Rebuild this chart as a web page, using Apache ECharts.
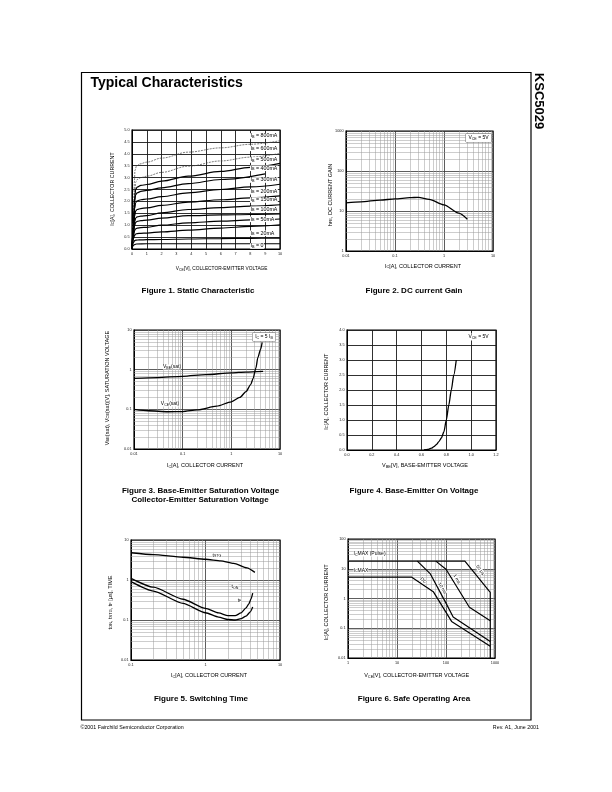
<!DOCTYPE html>
<html><head><meta charset="utf-8">
<script src="https://cdn.jsdelivr.net/npm/echarts/dist/echarts.min.js"></script>
<style>html,body{margin:0;padding:0;background:#fff}#c{width:612px;height:792px}</style>
</head><body><div id="c"></div>
<script>
const FONT = '"Liberation Sans", Arial, Helvetica, sans-serif';

// ---------- Figure 1: Static Characteristic ----------
const f1XTicks = ['0','1','2','3','4','5','6','7','8','9','10'];
const f1YTicks = ['0.0','0.5','1.0','1.5','2.0','2.5','3.0','3.5','4.0','4.5','5.0'];
const f1Names = ['I_{B} = 800mA','I_{B} = 600mA','I_{B} = 500mA','I_{B} = 400mA','I_{B} = 300mA','I_{B} = 200mA','I_{B} = 150mA','I_{B} = 100mA','I_{B} = 50mA','I_{B} = 20mA','I_{B} = 0'];
const f1c1  = [[0,0],[0.1,1.2],[0.16,2.8],[0.2,3.3],[0.3,3.48],[0.5,3.57],[1,3.65],[2,3.82],[3.8,4.07],[6,4.25],[8,4.4],[10,4.55]];
const f1c2  = [[0,0],[0.1,1.1],[0.18,2.4],[0.25,2.8],[0.35,2.92],[0.6,3.0],[1,3.06],[2,3.22],[3.8,3.48],[6,3.7],[8,3.86],[10,4.02]];
const f1c3  = [[0,0],[0.1,1.0],[0.18,2.2],[0.25,2.5],[0.35,2.6],[0.6,2.67],[1,2.71],[2,2.85],[3.8,3.06],[6,3.26],[8,3.43],[10,3.6]];
const f1c4  = [[0,0],[0.1,0.95],[0.18,2.0],[0.25,2.28],[0.35,2.36],[0.6,2.42],[1,2.46],[2,2.57],[3.8,2.75],[6,2.92],[9,3.16]];
const f1c5  = [[0,0],[0.1,0.9],[0.18,1.7],[0.25,1.95],[0.35,2.02],[0.6,2.07],[1,2.1],[2,2.2],[3.8,2.36],[6,2.5],[8,2.61],[10,2.72]];
const f1c6  = [[0,0],[0.1,0.8],[0.18,1.4],[0.25,1.6],[0.35,1.66],[0.6,1.7],[1,1.73],[2,1.83],[3.8,1.97],[6,2.07],[8,2.15],[10,2.23]];
const f1c7  = [[0,0],[0.1,0.7],[0.18,1.15],[0.25,1.3],[0.35,1.35],[0.6,1.38],[1,1.4],[2,1.52],[3.8,1.66],[6,1.74],[8,1.8],[10,1.86]];
const f1c8  = [[0,0],[0.1,0.65],[0.18,1.0],[0.25,1.12],[0.35,1.16],[0.6,1.19],[1,1.21],[2,1.3],[3.8,1.4],[6,1.43],[8,1.45],[10,1.47]];
const f1c9  = [[0,0],[0.1,0.55],[0.18,0.78],[0.25,0.85],[0.35,0.88],[0.6,0.9],[1,0.91],[2,1.0],[3.8,1.1],[6,1.17],[8,1.22],[10,1.26]];
const f1c10 = [[0,0],[0.1,0.45],[0.18,0.58],[0.25,0.63],[0.35,0.65],[0.6,0.66],[1,0.67],[2,0.72],[3.8,0.79],[6,0.88],[8,0.95],[10,1.02]];
const f1c11 = [[0,0],[0.1,0.28],[0.18,0.35],[0.25,0.37],[0.5,0.385],[1,0.39],[2,0.4],[3.8,0.42],[6,0.44],[8,0.45],[10,0.46]];
const f1c12 = [[0,0],[0.1,0.15],[0.18,0.19],[0.3,0.21],[1,0.22],[3.8,0.22],[10,0.22]];

// ---------- Figure 2: DC current Gain ----------
const f2XTicks = ['0.01','0.1','1','10'];
const f2YTicks = ['1','10','100','1000'];
const hfe = [[0.01,16],[0.02,17],[0.05,18.8],[0.1,20],[0.2,21.5],[0.3,22],[0.5,19.5],[1,14.2],[2,8.8],[3,6.2]];

// ---------- Figure 3: Saturation Voltage ----------
const f3XTicks = ['0.01','0.1','1','10'];
const f3YTicks = ['0.01','0.1','1','10'];
const vbeSat = [[0.01,0.6],[0.03,0.63],[0.1,0.68],[0.3,0.75],[1,0.83],[2,0.87],[4.5,0.91]];
const vceSat = [[0.01,0.1],[0.02,0.092],[0.05,0.087],[0.1,0.088],[0.2,0.097],[0.5,0.12],[1,0.155],[1.5,0.2],[2,0.28],[2.5,0.42],[2.8,0.6],[3.2,1.1],[3.5,2.0],[4,3.3],[4.3,4.9]];

// ---------- Figure 4: Base-Emitter On Voltage ----------
const f4XTicks = ['0.0','0.2','0.4','0.6','0.8','1.0','1.2'];
const f4YTicks = ['0.0','0.5','1.0','1.5','2.0','2.5','3.0','3.5','4.0'];
const vbeOn = [[0.62,0],[0.65,0.02],[0.68,0.06],[0.7,0.11],[0.72,0.18],[0.74,0.28],[0.76,0.4],[0.78,0.6],[0.8,1.0],[0.82,1.5],[0.84,2.0],[0.86,2.5],[0.88,3.0]];

// ---------- Figure 5: Switching Time ----------
const f5XTicks = ['0.1','1','10'];
const f5YTicks = ['0.01','0.1','1','10'];
const tStg = [[0.1,4.8],[0.2,4.3],[0.5,3.7],[1,3.3],[1.6,3.0],[2.4,2.6],[3.6,2.0],[4.6,1.55]];
const tOn  = [[0.1,1.1],[0.2,0.66],[0.5,0.33],[1,0.195],[1.5,0.15],[2,0.128],[2.5,0.128],[3,0.15],[3.5,0.2],[3.8,0.25],[4.1,0.34],[4.3,0.47]];
const tF   = [[0.1,0.91],[0.2,0.53],[0.5,0.26],[1,0.152],[1.5,0.118],[2,0.103],[2.5,0.1],[3,0.108],[3.5,0.125],[4,0.16],[4.3,0.21]];

// ---------- Figure 6: Safe Operating Area ----------
const f6XTicks = ['1','10','100','1000'];
const f6YTicks = ['0.01','0.1','1','10','100'];
const soa50us = [[1,18],[243,18],[800,1.6],[800,0.01]];
const soa1ms  = [[62,18],[100,9.6],[300,0.51],[800,0.18]];
const soa10ms = [[26,18],[48,6.7],[100,0.7],[140,0.24],[800,0.036]];
const soaDC   = [[1,5.2],[20,5.2],[55,1.7],[130,0.17],[800,0.025]];

// ---------- helpers ----------
function fmt(ticks, log) {
  return function (v) {
    for (const t of ticks) {
      const n = parseFloat(t);
      if (log ? Math.abs(Math.log10(n) - Math.log10(v)) < 1e-4 : Math.abs(n - v) < 1e-6) return t;
    }
    return '';
  };
}
const LBL = {fontSize: 3.8, color: '#222', margin: 2.5, fontFamily: FONT, showMinLabel: true, showMaxLabel: true};
function linAxis(g, min, max, interval, ticks) {
  return {type: 'value', gridIndex: g, min, max, interval,
    axisLine: {show: true, lineStyle: {color: '#000', width: 1}}, axisTick: {show: false},
    splitLine: {show: true, lineStyle: {color: '#1a1a1a', width: 0.9}},
    axisLabel: Object.assign({}, LBL, {formatter: fmt(ticks, false)})};
}
function logAxis(g, min, max, ticks) {
  return {type: 'log', logBase: 10, gridIndex: g, min, max,
    axisLine: {show: true, lineStyle: {color: '#000', width: 1}}, axisTick: {show: false},
    splitLine: {show: true, lineStyle: {color: '#333', width: 0.8}},
    axisLabel: Object.assign({}, LBL, {formatter: fmt(ticks, true)})};
}
function minors(min, max) {
  const out = [];
  for (let e = Math.round(Math.log10(min)); e < Math.round(Math.log10(max)); e++)
    for (let k = 2; k <= 9; k++) out.push(k * Math.pow(10, e));
  return out;
}
function minorGrid(g, xr, yr) {
  const d = [];
  if (xr) minors(xr[0], xr[1]).forEach(v => d.push({xAxis: v}));
  if (yr) minors(yr[0], yr[1]).forEach(v => d.push({yAxis: v}));
  return {type: 'line', xAxisIndex: g, yAxisIndex: g, data: [], silent: true,
    markLine: {silent: true, z: 1, symbol: ['none', 'none'], label: {show: false},
      lineStyle: {color: '#9a9a9a', width: 0.5, type: 'solid'}, emphasis: {disabled: true}, animation: false, data: d}};
}
function curve(g, data, opt) {
  opt = opt || {};
  return {type: 'line', xAxisIndex: g, yAxisIndex: g, data, showSymbol: false, silent: true,
    smooth: opt.smooth === undefined ? 0.25 : opt.smooth, smoothMonotone: 'x', z: 3,
    lineStyle: {color: opt.color || '#000', width: opt.width || 1.2, type: opt.type || 'solid'},
    emphasis: {disabled: true}};
}
function rich(str) {
  return str.split(/(_\{[^}]*\})/).filter(p => p).map(p =>
    p.startsWith('_{') ? '{s|' + p.slice(2, -1) + '}' : '{n|' + p + '}').join('');
}
function txt(x, y, str, size, o) {
  o = o || {};
  const w = o.bold ? 'bold' : 'normal';
  return {type: 'text', x, y, rotation: o.rot || 0, z: 100, silent: true,
    style: {text: rich(str), x: 0, y: 0, align: o.align || 'center', verticalAlign: 'middle',
      rich: {n: {fontSize: size, fontFamily: FONT, fontWeight: w, fill: '#000'},
             s: {fontSize: size * 0.72, fontFamily: FONT, fontWeight: w, fill: '#000', verticalAlign: 'bottom'}},
      backgroundColor: o.bg, borderColor: o.border, borderWidth: o.border ? 0.5 : 0, padding: o.pad || 0}};
}

const grids = [
  {left: 132, top: 130, width: 148, height: 119},
  {left: 346, top: 131, width: 147, height: 120},
  {left: 134, top: 330, width: 146, height: 119},
  {left: 347, top: 330, width: 149, height: 120},
  {left: 131, top: 540, width: 149, height: 120},
  {left: 348, top: 539, width: 147, height: 119}
].map(g => Object.assign(g, {show: true, borderColor: '#000', borderWidth: 1.2, backgroundColor: 'transparent', containLabel: false, outerBoundsMode: 'none'}));

const xAxes = [
  linAxis(0, 0, 10, 1, f1XTicks),
  logAxis(1, 0.01, 10, f2XTicks),
  logAxis(2, 0.01, 10, f3XTicks),
  linAxis(3, 0, 1.2, 0.2, f4XTicks),
  logAxis(4, 0.1, 10, f5XTicks),
  logAxis(5, 1, 1000, f6XTicks)
];
const yAxes = [
  linAxis(0, 0, 5, 0.5, f1YTicks),
  logAxis(1, 1, 1000, f2YTicks),
  logAxis(2, 0.01, 10, f3YTicks),
  linAxis(3, 0, 4, 0.5, f4YTicks),
  logAxis(4, 0.01, 10, f5YTicks),
  logAxis(5, 0.01, 100, f6YTicks)
];

const series = [
  curve(0, f1c1, {type: [2, 1], width: 0.7, color: '#444', smooth: 0.35}),
  curve(0, f1c2, {type: [2, 1], width: 0.7, color: '#444', smooth: 0.35})
].concat([f1c3, f1c4, f1c5, f1c6, f1c7, f1c8, f1c9, f1c10, f1c11, f1c12].map(d => curve(0, d, {smooth: 0.35})))
 .concat([
  minorGrid(1, [0.01, 10], [1, 1000]),
  curve(1, hfe, {width: 1.3}),
  minorGrid(2, [0.01, 10], [0.01, 10]),
  curve(2, vbeSat, {width: 1.3}), curve(2, vceSat, {width: 1.3}),
  curve(3, vbeOn, {width: 1.3}),
  minorGrid(4, [0.1, 10], [0.01, 10]),
  curve(4, tStg, {width: 1.3, smooth: 0.2}), curve(4, tOn, {width: 1.3, smooth: 0.2}), curve(4, tF, {width: 1.3, smooth: 0.2}),
  minorGrid(5, [1, 1000], [0.01, 100]),
  curve(5, soa50us, {smooth: false, width: 1.2}), curve(5, soa1ms, {smooth: false, width: 1.2}),
  curve(5, soa10ms, {smooth: false, width: 1.2}), curve(5, soaDC, {smooth: false, width: 1.2})
]);

// ---------- page texts ----------
const f1LabelY = [136, 148.3, 160, 168.3, 180, 191.7, 200, 209.3, 219.3, 233.3, 246];
const gfx = [
  {type: 'rect', z: 90, silent: true, shape: {x: 81.5, y: 72.5, width: 449.5, height: 647.5}, style: {fill: 'none', stroke: '#000', lineWidth: 1.2}},
  txt(90.5, 83, 'Typical Characteristics', 14, {bold: true, align: 'left'}),
  txt(539, 101, 'KSC5029', 13, {bold: true, rot: -Math.PI / 2}),
  txt(80.5, 728, '©2001 Fairchild Semiconductor Corporation', 5.3, {align: 'left'}),
  txt(539, 728, 'Rev. A1, June 2001', 5.3, {align: 'right'}),
  // captions
  txt(198, 291, 'Figure 1. Static Characteristic', 8, {bold: true}),
  txt(414, 291, 'Figure 2. DC current Gain', 8, {bold: true}),
  txt(200.5, 491, 'Figure 3. Base-Emitter Saturation Voltage', 8, {bold: true}),
  txt(200, 500, 'Collector-Emitter Saturation Voltage', 8, {bold: true}),
  txt(414, 491, 'Figure 4. Base-Emitter On Voltage', 8, {bold: true}),
  txt(201, 699, 'Figure 5. Switching Time', 8, {bold: true}),
  txt(414, 699, 'Figure 6. Safe Operating Area', 8, {bold: true}),
  // axis names
  txt(112.7, 189, 'I_{C}[A], COLLECTOR CURRENT', 5.3, {rot: Math.PI / 2}),
  txt(221.7, 269, 'V_{CE}[V], COLLECTOR-EMITTER VOLTAGE', 4.8),
  txt(330, 195, 'h_{FE}, DC CURRENT GAIN', 5.5, {rot: Math.PI / 2}),
  txt(423, 266, 'I_{C}[A], COLLECTOR CURRENT', 5.5),
  txt(107.3, 388, 'V_{BE}(sat), V_{CE}(sat)[V], SATURATION VOLTAGE', 5.5, {rot: Math.PI / 2}),
  txt(205, 465.7, 'I_{C}[A], COLLECTOR CURRENT', 5.5),
  txt(326, 391.7, 'I_{C}[A], COLLECTOR CURRENT', 5.5, {rot: Math.PI / 2}),
  txt(425, 465.7, 'V_{BE}[V], BASE-EMITTER VOLTAGE', 5.5),
  txt(110, 602.5, 't_{ON}, t_{STG}, t_{F} [μs], TIME', 5.5, {rot: Math.PI / 2}),
  txt(209, 675.7, 'I_{C}[A], COLLECTOR CURRENT', 5.5),
  txt(326, 602.5, 'I_{C}[A], COLLECTOR CURRENT', 5.5, {rot: Math.PI / 2}),
  txt(416.7, 675.7, 'V_{CE}[V], COLLECTOR-EMITTER VOLTAGE', 5.5),
  // in-chart labels
  txt(478.5, 138, 'V_{CE} = 5V', 5, {bg: '#fff', border: '#777', pad: [1.5, 2.5]}),
  txt(264, 337, 'I_{C} = 5 I_{B}', 5, {bg: '#fff', border: '#777', pad: [1.5, 2.5]}),
  txt(172, 367, 'V_{BE}(sat)', 5, {bg: '#fff'}),
  txt(170, 404, 'V_{CE}(sat)', 5, {bg: '#fff'}),
  txt(478.5, 337, 'V_{CE} = 5V', 5, {bg: '#fff', pad: [1, 2]}),
  txt(217, 555.7, 't_{STG}', 5, {bg: '#fff'}),
  txt(235, 587, 't_{ON}', 5, {bg: '#fff'}),
  txt(239.5, 600.7, 't_{F}', 5, {bg: '#fff'}),
  txt(353.5, 554, 'I_{C}MAX (Pulse)', 5, {align: 'left', bg: '#fff'}),
  txt(353.5, 570.7, 'I_{C}MAX', 5, {align: 'left', bg: '#fff'}),
  txt(423.3, 580.5, 'DC', 4.6, {rot: -0.7, bg: '#fff'}),
  txt(442.3, 588.3, '10 ms', 4.6, {rot: -1.05, bg: '#fff'}),
  txt(456.7, 579, '1 ms', 4.6, {rot: -1.05, bg: '#fff'}),
  txt(480, 570, '50 μs', 4.6, {rot: -0.95, bg: '#fff'})
];
f1Names.forEach((n, i) => gfx.push(txt(250, f1LabelY[i], n, 5.3, {align: 'left', bg: '#fff', pad: [0.3, 0.5]})));

const chart = echarts.init(document.getElementById('c'), null, {renderer: 'canvas'});
chart.setOption({
  animation: false, backgroundColor: '#fff',
  grid: grids, xAxis: xAxes, yAxis: yAxes, series, graphic: gfx
});
</script></body></html>
